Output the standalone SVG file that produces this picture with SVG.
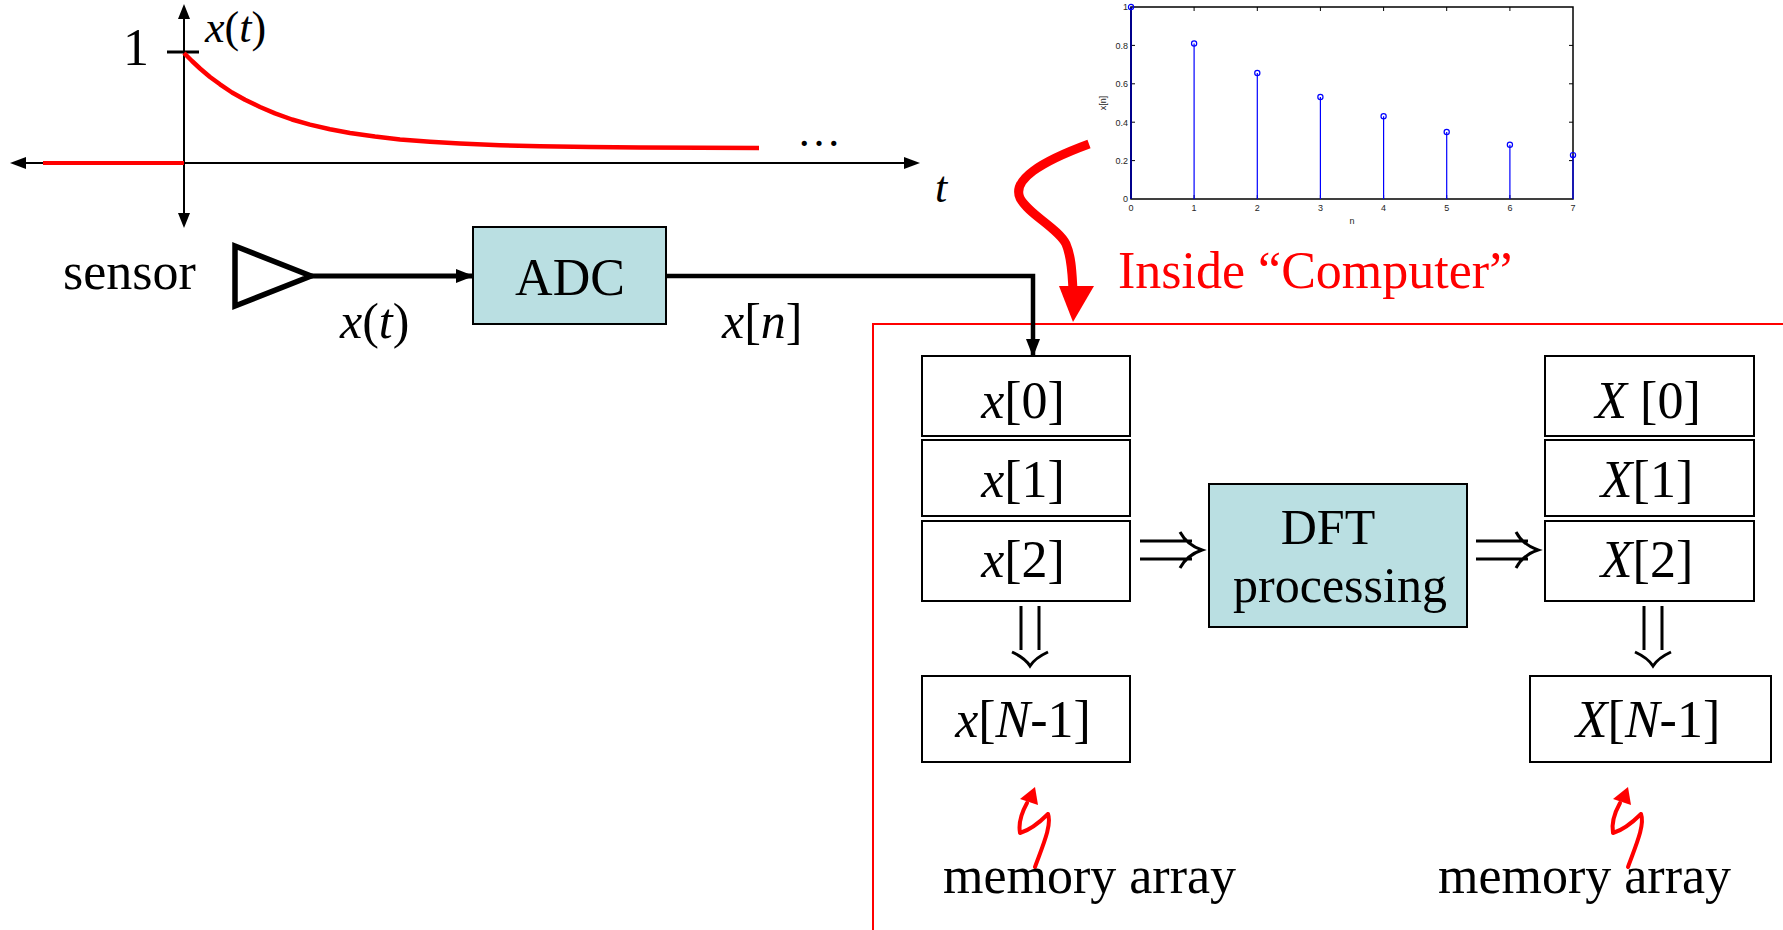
<svg xmlns="http://www.w3.org/2000/svg" width="1783" height="930" viewBox="0 0 1783 930">
<defs>
<style>
.t{font-family:"Liberation Serif","Times New Roman",serif;font-size:52px;fill:#000}
.i{font-style:italic}
.box{fill:#fff;stroke:#000;stroke-width:2}
.proc{fill:#badfe2;stroke:#000;stroke-width:2}
.ax{stroke:#000;stroke-width:2;fill:none}
.tk{font-family:"Liberation Sans",Arial,sans-serif;font-size:9px;fill:#262626}
.stem{stroke:#0000ff;stroke-width:1.2}
.mk{fill:none;stroke:#0000ff;stroke-width:1.2}
.dbl{fill:none;stroke:#000;stroke-width:3;stroke-linecap:butt}
.red{fill:none;stroke:#ff0000}
</style>
<marker id="ah" markerUnits="userSpaceOnUse" markerWidth="18" markerHeight="14" refX="17" refY="7" orient="auto">
<path d="M0,0 L18,7 L0,14 z" fill="#000"/>
</marker>
<g id="dblR">
<path class="dbl" d="M0,-9 H52 M0,9 H52 M40,-18 Q47,-5 62,0 Q47,5 40,18"/>
</g>
<g id="dblD">
<path class="dbl" d="M-9,0 V44 M9,0 V44 M-18,46 Q-5,52 0,60 Q5,52 18,46"/>
</g>
<g id="bolt">
<path d="M1035,867 C1043,845 1052,825 1048,814 C1040,822 1030,830 1020,833 C1018,822 1022,812 1027,803" stroke="#ff0000" stroke-width="4" fill="none" stroke-linecap="round" stroke-linejoin="round"/>
<path d="M1035,787 L1038,805 L1020,799 z" fill="#ff0000"/>
</g>
</defs>
<rect width="1783" height="930" fill="#fff"/>

<!-- continuous-time plot -->
<g id="ct-plot">
<line class="ax" x1="184" y1="12" x2="184" y2="220"/>
<polygon points="184,4 178,19 190,19" fill="#000"/>
<polygon points="184,228 178,213 190,213" fill="#000"/>
<line class="ax" x1="18" y1="163" x2="912" y2="163"/>
<polygon points="10,163 26,157 26,169" fill="#000"/>
<polygon points="920,163 904,157 904,169" fill="#000"/>
<line x1="167" y1="52" x2="199" y2="52" stroke="#000" stroke-width="3"/>
<line x1="43" y1="163" x2="184" y2="163" stroke="#ff0000" stroke-width="4"/>
<polyline class="red" stroke-width="4.5" stroke-linejoin="round" points="184,53 192,61 200,68.5 210,77 220,84.3 232,92.5 245,99.8 260,107 275,113.4 292,119.5 310,124.6 330,129.3 350,133 375,136.6 400,139.4 430,141.8 460,143.6 500,145.2 540,146.2 590,147 640,147.4 700,147.8 759,148"/>
<text class="t" x="136" y="65" text-anchor="middle">1</text>
<text class="t" x="205" y="42" style="font-size:44px"><tspan class="i">x</tspan>(<tspan class="i">t</tspan>)</text>
<text class="t" x="797" y="146" style="font-size:44px">…</text>
<text class="t i" x="935" y="202" style="font-size:44px">t</text>
</g>

<!-- sampled stem plot -->
<g id="stem-plot">
<rect x="1131" y="7" width="442" height="192" fill="none" stroke="#000" stroke-width="1.5"/>
<g stroke="#000" stroke-width="1">
<path d="M1194.1,199 v-4 M1257.3,199 v-4 M1320.4,199 v-4 M1383.6,199 v-4 M1446.7,199 v-4 M1509.9,199 v-4 M1194.1,7 v4 M1257.3,7 v4 M1320.4,7 v4 M1383.6,7 v4 M1446.7,7 v4 M1509.9,7 v4"/>
<path d="M1131,160.6 h4 M1131,122.2 h4 M1131,83.8 h4 M1131,45.4 h4 M1573,160.6 h-4 M1573,122.2 h-4 M1573,83.8 h-4 M1573,45.4 h-4"/>
</g>
<line x1="1131" y1="199" x2="1131" y2="7" stroke="#00008b" stroke-width="2"/>
<g class="stem">
<line x1="1194.1" y1="199" x2="1194.1" y2="43.5"/>
<line x1="1257.3" y1="199" x2="1257.3" y2="73"/>
<line x1="1320.4" y1="199" x2="1320.4" y2="97"/>
<line x1="1383.6" y1="199" x2="1383.6" y2="116.3"/>
<line x1="1446.7" y1="199" x2="1446.7" y2="132"/>
<line x1="1509.9" y1="199" x2="1509.9" y2="144.8"/>
<line x1="1573" y1="199" x2="1573" y2="155.1"/>
</g>
<g class="mk">
<circle cx="1131" cy="7" r="2.6"/>
<circle cx="1194.1" cy="43.5" r="2.6"/>
<circle cx="1257.3" cy="73" r="2.6"/>
<circle cx="1320.4" cy="97" r="2.6"/>
<circle cx="1383.6" cy="116.3" r="2.6"/>
<circle cx="1446.7" cy="132" r="2.6"/>
<circle cx="1509.9" cy="144.8" r="2.6"/>
<circle cx="1573" cy="155.1" r="2.6"/>
</g>
<g class="tk" text-anchor="end">
<text x="1128" y="10">1</text>
<text x="1128" y="49">0.8</text>
<text x="1128" y="87">0.6</text>
<text x="1128" y="126">0.4</text>
<text x="1128" y="164">0.2</text>
<text x="1128" y="202">0</text>
</g>
<g class="tk" text-anchor="middle">
<text x="1131" y="211">0</text>
<text x="1194.1" y="211">1</text>
<text x="1257.3" y="211">2</text>
<text x="1320.4" y="211">3</text>
<text x="1383.6" y="211">4</text>
<text x="1446.7" y="211">5</text>
<text x="1509.9" y="211">6</text>
<text x="1573" y="211">7</text>
<text x="1352" y="224">n</text>
<text transform="translate(1106,103) rotate(-90)">x[n]</text>
</g>
</g>

<!-- sensor -->
<g id="sensor">
<text class="t" x="63" y="289">sensor</text>
<polygon points="235,246 311,276 235,306" fill="#fff" stroke="#000" stroke-width="5.5"/>
</g>

<!-- ADC -->
<g id="adc">
<rect class="proc" x="473" y="227" width="193" height="97"/>
<text class="t" x="570" y="295" text-anchor="middle">ADC</text>
</g>

<!-- computer region -->
<g id="computer">
<path d="M873,930 V324 H1790" fill="none" stroke="#ff0000" stroke-width="2"/>
<text class="t" x="1118" y="288" fill="#ff0000" style="fill:#ff0000">Inside “Computer”</text>
</g>

<!-- input memory array -->
<g id="x-array">
<rect class="box" x="922" y="356" width="208" height="80"/>
<rect class="box" x="922" y="440" width="208" height="76"/>
<rect class="box" x="922" y="521" width="208" height="80"/>
<text class="t" x="1023" y="418" text-anchor="middle"><tspan class="i">x</tspan>[0]</text>
<text class="t" x="1023" y="497" text-anchor="middle"><tspan class="i">x</tspan>[1]</text>
<text class="t" x="1023" y="577" text-anchor="middle"><tspan class="i">x</tspan>[2]</text>
</g>
<g id="x-last">
<rect class="box" x="922" y="676" width="208" height="86"/>
<text class="t" x="1023" y="737" text-anchor="middle"><tspan class="i">x</tspan>[<tspan class="i">N</tspan>-1]</text>
</g>

<!-- DFT -->
<g id="dft">
<rect class="proc" x="1209" y="484" width="258" height="143"/>
<text class="t" x="1328" y="544" text-anchor="middle" style="font-size:50px">DFT</text>
<text class="t" x="1340" y="602" text-anchor="middle" style="font-size:50px">processing</text>
</g>

<!-- output memory array -->
<g id="X-array">
<rect class="box" x="1545" y="356" width="209" height="80"/>
<rect class="box" x="1545" y="440" width="209" height="76"/>
<rect class="box" x="1545" y="521" width="209" height="80"/>
<text class="t" x="1648" y="418" text-anchor="middle"><tspan class="i">X</tspan> [0]</text>
<text class="t" x="1647" y="497" text-anchor="middle"><tspan class="i">X</tspan>[1]</text>
<text class="t" x="1647" y="577" text-anchor="middle"><tspan class="i">X</tspan>[2]</text>
</g>
<g id="X-last">
<rect class="box" x="1530" y="676" width="241" height="86"/>
<text class="t" x="1648" y="737" text-anchor="middle"><tspan class="i">X</tspan>[<tspan class="i">N</tspan>-1]</text>
</g>

<!-- labels -->
<g id="mem-left">
<use href="#bolt"/>
<text class="t" x="943" y="893">memory array</text>
</g>
<g id="mem-right">
<use href="#bolt" transform="translate(593,0)"/>
<text class="t" x="1438" y="893">memory array</text>
</g>

<!-- connectors -->
<g id="connectors">
<line x1="311" y1="276" x2="473" y2="276" stroke="#000" stroke-width="5" marker-end="url(#ah)"/>
<polyline points="666,276 1033,276 1033,356" fill="none" stroke="#000" stroke-width="4.5" marker-end="url(#ah)"/>
<text class="t i" x="340" y="338" style="font-size:50px">x<tspan style="font-style:normal">(</tspan>t<tspan style="font-style:normal">)</tspan></text>
<text class="t" x="722" y="338" style="font-size:50px"><tspan class="i">x</tspan>[<tspan class="i">n</tspan>]</text>
<use href="#dblR" transform="translate(1140,550)"/>
<use href="#dblR" transform="translate(1476,550)"/>
<use href="#dblD" transform="translate(1030,606)"/>
<use href="#dblD" transform="translate(1653,606)"/>
<path d="M1089,144 C1040,162 1012,180 1020,198 C1028,214 1058,228 1066,244 C1072,258 1072,275 1073,290" fill="none" stroke="#ff0000" stroke-width="9"/>
<polygon points="1059,286 1094,286 1073,322" fill="#ff0000"/>
</g>
</svg>
